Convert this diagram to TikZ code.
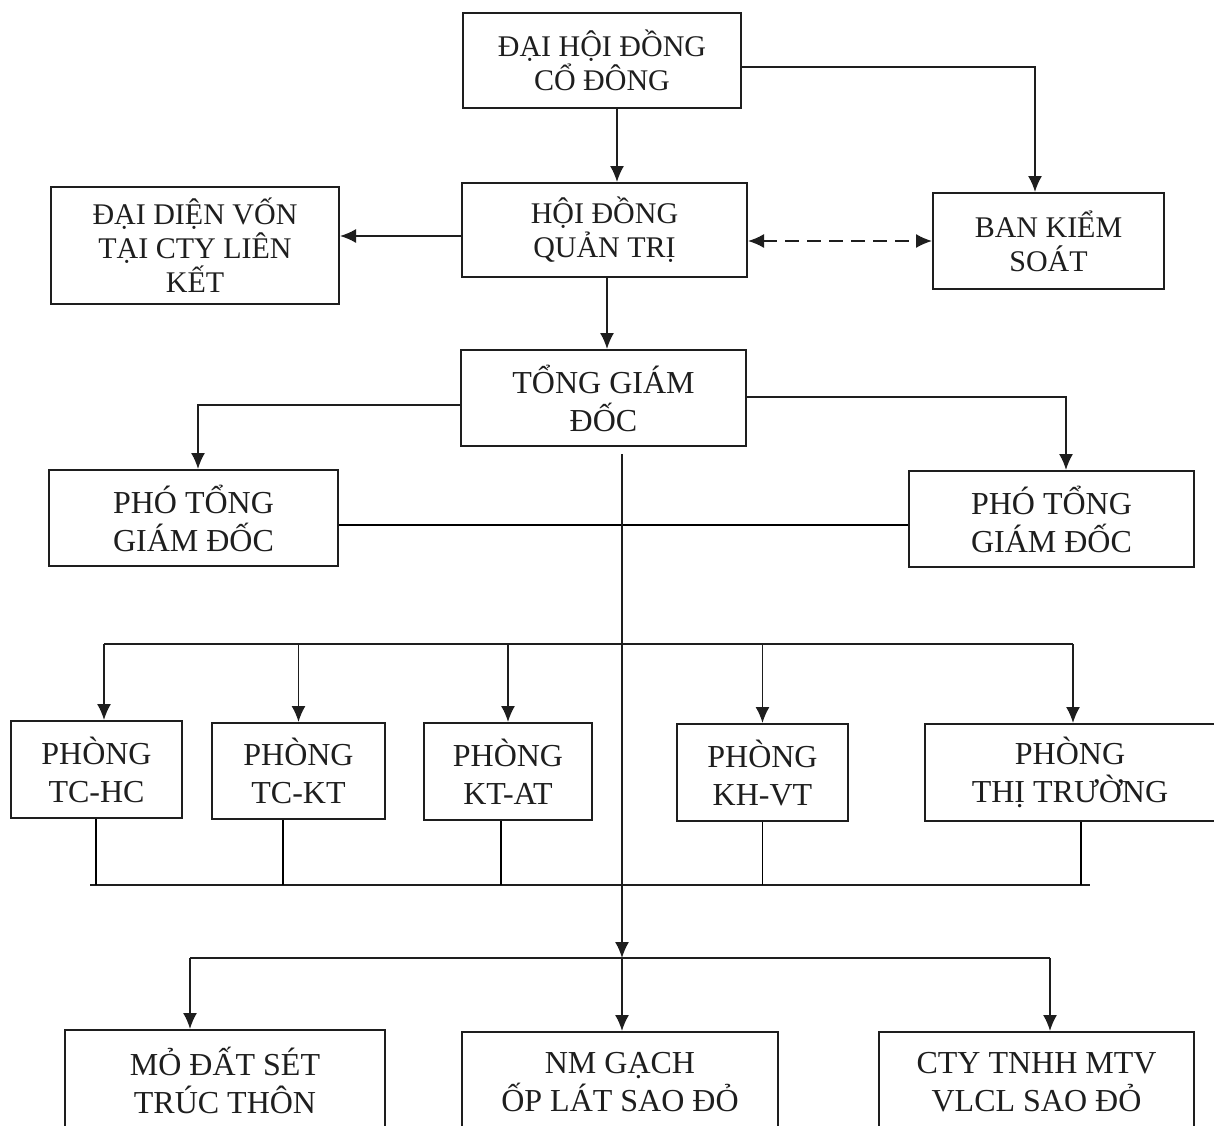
\documentclass[tikz,border=0pt]{standalone}
\usepackage{fontspec}
\setmainfont{Liberation Serif}
\usetikzlibrary{arrows.meta, positioning, calc}
\definecolor{cink}{HTML}{1E1E1E}
\tikzset{
  every picture/.style={line width=1.7pt},
  box/.style={draw=cink, line width=2pt, align=center, inner sep=0pt, text=cink, font=\fontsize{30}{34}\selectfont},
  unit/.style={box, font=\fontsize{32}{38}\selectfont},
  arrow/.style={-{Latex[length=16pt, width=14pt]}, draw=cink},
  bus/.style={draw=cink, line width=2.2pt},
}

\begin{document}
\begin{tikzpicture}[x=1pt, y=-1pt,
  dbl/.style={{Latex[length=16pt, width=14pt]}-{Latex[length=16pt, width=14pt]}, draw=cink, dash pattern=on 14pt off 8pt}]
  \useasboundingbox (0,0) rectangle (1214,1125);
  \fill[white] (0,0) rectangle (1214,1125);
  \clip (0,0) rectangle (1214,1125);
  % Board
  \node[box, minimum width=278pt, minimum height=95pt] (dhdcd) at (602,60) {ĐẠI HỘI ĐỒNG\\CỔ ĐÔNG};
  \node[box, minimum width=285pt, minimum height=94pt] (hdqt) at (604.5,230) {HỘI ĐỒNG\\QUẢN TRỊ};
  \node[box, minimum width=288pt, minimum height=117pt] (ddv) at (195,245.5) {ĐẠI DIỆN VỐN\\TẠI CTY LIÊN\\KẾT};
  \node[box, minimum width=231pt, minimum height=96pt] (bks) at (1048.5,241) {BAN KIỂM\\SOÁT};
  \draw[arrow] ([xshift=15pt]dhdcd.south) -- ([xshift=15pt]dhdcd.south |- hdqt.north);
  \draw[arrow] ([yshift=-7pt]dhdcd.east) -| ([xshift=-13.5pt]bks.north);
  \draw[arrow] ([yshift=-6pt]hdqt.west) -- ([yshift=-6pt]hdqt.west -| ddv.east);
  \draw[dbl] (bks.west -| hdqt.east) -- (bks.west);
  % Management
  \node[unit, minimum width=285pt, minimum height=96pt] (tgd) at (603.5,398) {TỔNG GIÁM\\ĐỐC};
  \node[unit, minimum width=289pt, minimum height=96pt] (ptgdl) at (193.5,518) {PHÓ TỔNG\\GIÁM ĐỐC};
  \node[unit, minimum width=285pt, minimum height=96pt] (ptgdr) at (1051.5,519) {PHÓ TỔNG\\GIÁM ĐỐC};
  \draw[arrow] ([xshift=2.5pt]hdqt.south) -- ([xshift=2.5pt]hdqt.south |- tgd.north);
  \draw[arrow] ([yshift=-7pt]tgd.west) -| ([xshift=4.5pt]ptgdl.north);
  \draw[arrow] ([yshift=1pt]tgd.east) -| ([xshift=14.5pt]ptgdr.north);
  \draw ([yshift=-7pt]ptgdl.east) -- ([yshift=-7pt]ptgdl.east -| ptgdr.west);
  % Departments
  \node[unit, minimum width=171pt, minimum height=97pt] (tchc) at (96.5,769.5) {PHÒNG\\TC-HC};
  \node[unit, minimum width=173pt, minimum height=96pt] (tckt) at (298.5,771) {PHÒNG\\TC-KT};
  \node[unit, minimum width=168pt, minimum height=97pt] (ktat) at (508,771.5) {PHÒNG\\KT-AT};
  \node[unit, minimum width=171pt, minimum height=97pt] (khvt) at (762.5,772.5) {PHÒNG\\KH-VT};
  \node[unit, minimum width=290pt, minimum height=97pt] (thitruong) at (1070,772.5) {PHÒNG\\THỊ TRƯỜNG};
  \coordinate (topbus) at (0,644);
  \coordinate (lowbus) at (0,885);
  \draw[bus] ([xshift=7.5pt]tchc.north |- topbus) -- ([xshift=3pt]thitruong.north |- topbus);
  \draw[arrow] ([xshift=7.5pt]tchc.north |- topbus) -- ([xshift=7.5pt]tchc.north);
  \draw[arrow] (tckt.north |- topbus) -- (tckt.north);
  \draw[arrow] (ktat.north |- topbus) -- (ktat.north);
  \draw[arrow] (khvt.north |- topbus) -- (khvt.north);
  \draw[arrow] ([xshift=3pt]thitruong.north |- topbus) -- ([xshift=3pt]thitruong.north);
  \draw[bus] ([xshift=-6.5pt]tchc.south |- lowbus) -- ([xshift=20pt]thitruong.south |- lowbus);
  \draw ([xshift=-0.5pt]tchc.south) -- ([xshift=-0.5pt]tchc.south |- lowbus);
  \draw ([xshift=-15.5pt]tckt.south) -- ([xshift=-15.5pt]tckt.south |- lowbus);
  \draw ([xshift=-7pt]ktat.south) -- ([xshift=-7pt]ktat.south |- lowbus);
  \draw (khvt.south) -- (khvt.south |- lowbus);
  \draw ([xshift=11pt]thitruong.south) -- ([xshift=11pt]thitruong.south |- lowbus);
  % Member units
  \node[unit, minimum width=320pt, minimum height=100pt] (modat) at (225,1080) {MỎ ĐẤT SÉT\\TRÚC THÔN};
  \node[unit, minimum width=316pt, minimum height=100pt] (nmgach) at (620,1082) {NM GẠCH\\ỐP LÁT SAO ĐỎ};
  \node[unit, minimum width=315pt, minimum height=100pt] (cty) at (1036.5,1082) {CTY TNHH MTV\\VLCL SAO ĐỎ};
  \coordinate (unitbus) at (0,958);
  \draw[bus] ([xshift=-35pt]modat.north |- unitbus) -- ([xshift=13.5pt]cty.north |- unitbus);
  \draw[arrow] ([xshift=18.5pt,yshift=-7pt]tgd.south) -- ([xshift=2pt]nmgach.north |- unitbus);
  \draw[arrow] ([xshift=2pt]nmgach.north |- unitbus) -- ([xshift=2pt]nmgach.north);
  \draw[arrow] ([xshift=-35pt]modat.north |- unitbus) -- ([xshift=-35pt]modat.north);
  \draw[arrow] ([xshift=13.5pt]cty.north |- unitbus) -- ([xshift=13.5pt]cty.north);
\end{tikzpicture}
\end{document}
